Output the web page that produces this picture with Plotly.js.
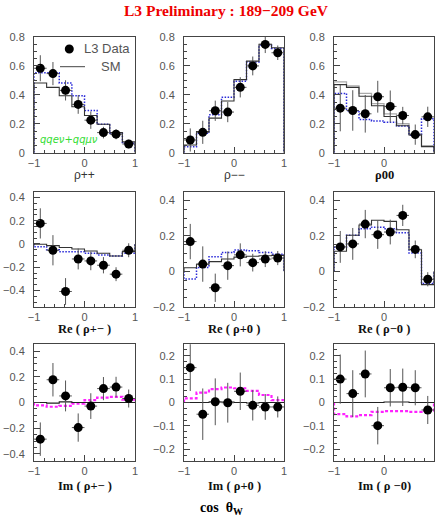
<!DOCTYPE html>
<html>
<head>
<meta charset="utf-8">
<script src="https://cdn.plot.ly/plotly-3.0.1.min.js"></script>
<style>html,body{margin:0;padding:0;background:#fff}#chart{width:436px;height:526px}</style>
</head>
<body>
<div id="chart"></div>
<script>
// bins in cos(theta_W)
const binEdges = [-1, -0.75, -0.5, -0.25, 0, 0.25, 0.5, 0.75, 1];
const binCenters = [-0.875, -0.625, -0.375, -0.125, 0.125, 0.375, 0.625, 0.875];
const binHalfWidth = 0.125;

// rho++
const rhoPP_data = [0.584, 0.547, 0.431, 0.334, 0.225, 0.139, 0.128, 0.060];
const rhoPP_err  = [0.09, 0.08, 0.07, 0.065, 0.06, 0.04, 0.035, 0.03];
const rhoPP_sm   = [0.482, 0.452, 0.394, 0.318, 0.257, 0.197, 0.139, 0.075];
const rhoPP_alt  = [0.552, 0.552, 0.482, 0.394, 0.292, 0.197, 0.134, 0.065];
// rho--
const rhoMM_data = [0.088, 0.141, 0.290, 0.281, 0.452, 0.600, 0.749, 0.691];
const rhoMM_err  = [0.08, 0.08, 0.07, 0.07, 0.07, 0.065, 0.06, 0.05];
const rhoMM_sm   = [0.053, 0.146, 0.239, 0.357, 0.505, 0.633, 0.749, 0.726];
const rhoMM_alt  = [0.042, 0.134, 0.262, 0.383, 0.494, 0.628, 0.744, 0.721];
// rho00
const rho00_data = [0.308, 0.292, 0.269, 0.387, 0.320, 0.257, 0.125, 0.248];
const rho00_err  = [0.16, 0.14, 0.13, 0.11, 0.11, 0.06, 0.07, 0.07];
const rho00_sm   = [0.471, 0.452, 0.390, 0.325, 0.250, 0.186, 0.123, 0.042];
const rho00_sm2  = [0.490, 0.462, 0.410, 0.340, 0.268, 0.200, 0.130, 0.048];
const rho00_alt  = [0.410, 0.290, 0.230, 0.220, 0.210, 0.185, 0.120, 0.235];
// Re rho+-
const reRhoPM_data = [0.177, -0.054, -0.409, -0.129, -0.146, -0.183, -0.260, -0.054];
const reRhoPM_err  = [0.13, 0.13, 0.115, 0.09, 0.08, 0.07, 0.06, 0.06];
const reRhoPM_sm   = [-0.003, -0.014, -0.031, -0.043, -0.060, -0.080, -0.103, -0.066];
const reRhoPM_alt  = [-0.023, -0.050, -0.066, -0.066, -0.080, -0.094, -0.103, -0.080];
// Re rho+0
const reRhoP0_data = [0.168, 0.041, -0.093, 0.032, 0.093, 0.049, 0.069, 0.075];
const reRhoP0_err  = [0.10, 0.10, 0.08, 0.08, 0.065, 0.05, 0.045, 0.04];
const reRhoP0_sm   = [0.020, 0.040, 0.055, 0.070, 0.080, 0.085, 0.088, 0.090];
const reRhoP0_alt  = [-0.043, 0.022, 0.082, 0.107, 0.121, 0.116, 0.107, 0.097];
// Re rho-0
const reRhoM0_data = [0.138, 0.155, 0.267, 0.207, 0.222, 0.316, 0.124, -0.045];
const reRhoM0_err  = [0.09, 0.09, 0.08, 0.08, 0.07, 0.06, 0.05, 0.04];
const reRhoM0_sm   = [0.113, 0.204, 0.262, 0.289, 0.282, 0.235, 0.122, -0.075];
const reRhoM0_alt  = [0.136, 0.204, 0.240, 0.249, 0.240, 0.218, 0.104, -0.069];
// Im rho+-
const imRhoPM_data = [-0.285, 0.177, 0.051, -0.195, -0.028, 0.108, 0.120, 0.031];
const imRhoPM_err  = [0.13, 0.13, 0.12, 0.11, 0.10, 0.09, 0.08, 0.07];
const imRhoPM_sm   = [0, -0.005, 0.005, 0, 0, 0, 0, 0];
const imRhoPM_alt  = [-0.023, -0.033, -0.026, -0.008, 0.018, 0.038, 0.044, 0.023];
// Im rho+0
const imRhoP0_data = [0.149, -0.050, 0.003, -0.001, 0.048, -0.012, -0.019, -0.019];
const imRhoP0_err  = [0.10, 0.11, 0.10, 0.085, 0.08, 0.065, 0.055, 0.045];
const imRhoP0_sm   = [0, 0, 0.002, 0.002, 0, -0.002, 0, 0];
const imRhoP0_alt  = [0.018, 0.042, 0.057, 0.064, 0.061, 0.050, 0.032, 0.010];
// Im rho-0
const imRhoM0_data = [0.100, 0.038, 0.122, -0.099, 0.063, 0.065, 0.063, -0.032];
const imRhoM0_err  = [0.105, 0.10, 0.10, 0.08, 0.08, 0.08, 0.075, 0.06];
const imRhoM0_sm   = [0, 0, 0, 0, 0.002, 0.002, 0, 0];
const imRhoM0_alt  = [-0.050, -0.059, -0.054, -0.040, -0.037, -0.037, -0.040, -0.035];

const xTickVals = [-1, 0, 1];
const xTickText = ['\u22121', '0', '1'];

const panelTitles = ['\u03c1++', '\u03c1\u2212\u2212', '<b>\u03c100</b>',
  '<b>Re ( \u03c1+\u2212 )</b>', '<b>Re ( \u03c1+0 )</b>', '<b>Re ( \u03c1\u22120 )</b>',
  '<b>Im ( \u03c1+\u2212 )</b>', '<b>Im ( \u03c1+0 )</b>', '<b>Im ( \u03c1 \u22120)</b>'];

const panels = [
  {d: rhoPP_data, e: rhoPP_err, sm: rhoPP_sm, alt: rhoPP_alt, kind: 'blue', yr: [0, 0.8], dt: 0.2, mdt: 0.05},
  {d: rhoMM_data, e: rhoMM_err, sm: rhoMM_sm, alt: rhoMM_alt, kind: 'blue', yr: [0, 0.8], dt: 0.2, mdt: 0.05},
  {d: rho00_data, e: rho00_err, sm: rho00_sm, sm2: rho00_sm2, alt: rho00_alt, kind: 'blue', yr: [0, 0.8], dt: 0.2, mdt: 0.05},
  {d: reRhoPM_data, e: reRhoPM_err, sm: reRhoPM_sm, alt: reRhoPM_alt, kind: 'blue', yr: [-0.54, 0.45], dt: 0.2, mdt: 0.05},
  {d: reRhoP0_data, e: reRhoP0_err, sm: reRhoP0_sm, alt: reRhoP0_alt, kind: 'blue', yr: [-0.2, 0.45], dt: 0.2, mdt: 0.05},
  {d: reRhoM0_data, e: reRhoM0_err, sm: reRhoM0_sm, alt: reRhoM0_alt, kind: 'blue', yr: [-0.2, 0.45], dt: 0.2, mdt: 0.05},
  {d: imRhoPM_data, e: imRhoPM_err, sm: imRhoPM_sm, alt: imRhoPM_alt, kind: 'mag', yr: [-0.455, 0.455], dt: 0.2, mdt: 0.05},
  {d: imRhoP0_data, e: imRhoP0_err, sm: imRhoP0_sm, alt: imRhoP0_alt, kind: 'mag', yr: [-0.25, 0.25], dt: 0.1, mdt: 0.025},
  {d: imRhoM0_data, e: imRhoM0_err, sm: imRhoM0_sm, alt: imRhoM0_alt, kind: 'mag', yr: [-0.25, 0.25], dt: 0.1, mdt: 0.025}
];

const W = 436, H = 526;
const colPx = [[34, 135], [184, 284], [334, 434]];
const rowPx = [[37, 152.7], [191.7, 306.7], [344, 461]];
const titlePy = [175, 329, 486];

function stepXY(vals) {
  const xs = [binEdges[0]].concat(binEdges).concat([binEdges[binEdges.length - 1]]);
  const ys = [0].concat(vals).concat([vals[vals.length - 1], 0]);
  return {x: xs, y: ys};
}

const traces = [];
const layout = {
  width: W, height: H,
  margin: {l: 0, r: 0, t: 0, b: 0},
  paper_bgcolor: '#fff', plot_bgcolor: '#fff',
  showlegend: false,
  annotations: [], shapes: []
};

const tickFont = {family: 'Liberation Sans, Arial, sans-serif', size: 11, color: '#555'};

panels.forEach((p, i) => {
  const r = Math.floor(i / 3), c = i % 3;
  const xa = 'x' + (i + 1), ya = 'y' + (i + 1);
  const xk = 'xaxis' + (i === 0 ? '' : i + 1), yk = 'yaxis' + (i === 0 ? '' : i + 1);
  layout[xk] = {
    domain: [colPx[c][0] / W, colPx[c][1] / W], anchor: ya, range: [-1, 1],
    showgrid: false, zeroline: false, showline: true, mirror: true, linecolor: '#444', linewidth: 1,
    ticks: 'inside', ticklen: 6, tickcolor: '#444', tickmode: 'array', tickvals: xTickVals, ticktext: xTickText,
    minor: {dtick: 0.2, tick0: 0, ticks: 'inside', ticklen: 3, tickcolor: '#444'},
    tickfont: tickFont, fixedrange: true
  };
  layout[yk] = {
    domain: [1 - rowPx[r][1] / H, 1 - rowPx[r][0] / H], anchor: xa, range: p.yr,
    showgrid: false, zeroline: false, showline: true, mirror: true, linecolor: '#444', linewidth: 1,
    ticks: 'inside', ticklen: 6, tickcolor: '#444', dtick: p.dt, tick0: 0,
    minor: {dtick: p.mdt, ticks: 'inside', ticklen: 3, tickcolor: '#444'},
    tickfont: tickFont, ticklabelstandoff: 6, fixedrange: true
  };
  if (p.sm2) {
    const s2 = stepXY(p.sm2);
    traces.push({x: s2.x, y: s2.y, xaxis: xa, yaxis: ya, mode: 'lines', line: {shape: 'hv', color: '#aaa', width: 1.3}, hoverinfo: 'skip'});
  }
  const a = stepXY(p.alt);
  traces.push({x: a.x, y: a.y, xaxis: xa, yaxis: ya, mode: 'lines',
    line: p.kind === 'blue' ? {shape: 'hv', color: '#2a2ad8', width: 1.5, dash: '1.5px,1.5px'}
                            : {shape: 'hv', color: '#ff22ff', width: 2.2, dash: '3px,2px'},
    hoverinfo: 'skip'});
  const s = stepXY(p.sm);
  traces.push({x: s.x, y: s.y, xaxis: xa, yaxis: ya, mode: 'lines', line: {shape: 'hv', color: r === 2 ? '#222' : '#333', width: 1.1}, hoverinfo: 'skip'});
  traces.push({x: binCenters, y: p.d, xaxis: xa, yaxis: ya, mode: 'markers', cliponaxis: true,
    marker: {color: '#000', size: 9, symbol: 'circle'},
    error_y: {type: 'data', array: p.e, visible: true, color: '#555', thickness: 1, width: 0},
    error_x: {type: 'constant', value: binHalfWidth, visible: true, color: '#555', thickness: 1, width: 0}});
  const serif = i >= 2;
  layout.annotations.push({
    xref: 'paper', yref: 'paper', x: (colPx[c][0] + colPx[c][1]) / 2 / W, y: 1 - titlePy[r] / H,
    xanchor: 'center', yanchor: 'middle', showarrow: false, text: panelTitles[i],
    font: serif ? {family: 'Liberation Serif, Times New Roman, serif', size: 12.5, color: '#111'}
                : {family: 'Liberation Sans, Arial, sans-serif', size: 12, color: '#333'}
  });
});

// title
layout.annotations.push({xref: 'paper', yref: 'paper', x: 226 / W, y: 1 - 10 / H, xanchor: 'center', yanchor: 'middle',
  showarrow: false, text: '<b>L3 Preliminary : 189\u2212209 GeV</b>',
  font: {family: 'Liberation Serif, Times New Roman, serif', size: 15.5, color: '#ee0000'}});
// common x label
layout.annotations.push({xref: 'paper', yref: 'paper', x: 221 / W, y: 1 - 508 / H, xanchor: 'center', yanchor: 'middle',
  showarrow: false, text: '<b>cos  \u03b8<sub>W</sub></b>',
  font: {family: 'Liberation Serif, Times New Roman, serif', size: 14, color: '#000'}});
// legend in first panel
layout.shapes.push({type: 'circle', xref: 'paper', yref: 'paper', x0: 64.8 / W, x1: 73.8 / W, y0: 1 - 53.5 / H, y1: 1 - 44.5 / H,
  fillcolor: '#000', line: {width: 0}});
layout.annotations.push({xref: 'paper', yref: 'paper', x: 82 / W, y: 1 - 49 / H, xanchor: 'left', yanchor: 'middle',
  showarrow: false, text: 'L3 Data', font: {family: 'Liberation Sans, Arial, sans-serif', size: 13, color: '#555'}});
layout.shapes.push({type: 'line', xref: 'paper', yref: 'paper', x0: 60 / W, x1: 85 / W, y0: 1 - 66.7 / H, y1: 1 - 66.7 / H,
  line: {color: '#444', width: 1}});
layout.annotations.push({xref: 'paper', yref: 'paper', x: 99 / W, y: 1 - 66.7 / H, xanchor: 'left', yanchor: 'middle',
  showarrow: false, text: 'SM', font: {family: 'Liberation Sans, Arial, sans-serif', size: 13, color: '#555'}});
layout.annotations.push({xref: 'paper', yref: 'paper', x: 38 / W, y: 1 - 139 / H, xanchor: 'left', yanchor: 'middle',
  showarrow: false, text: '<i>qqe\u03bd+qq\u03bc\u03bd</i>', font: {family: 'DejaVu Sans, sans-serif', size: 10, color: '#33dd33'}});

Plotly.newPlot('chart', traces, layout, {staticPlot: true, displayModeBar: false});
</script>
</body>
</html>
